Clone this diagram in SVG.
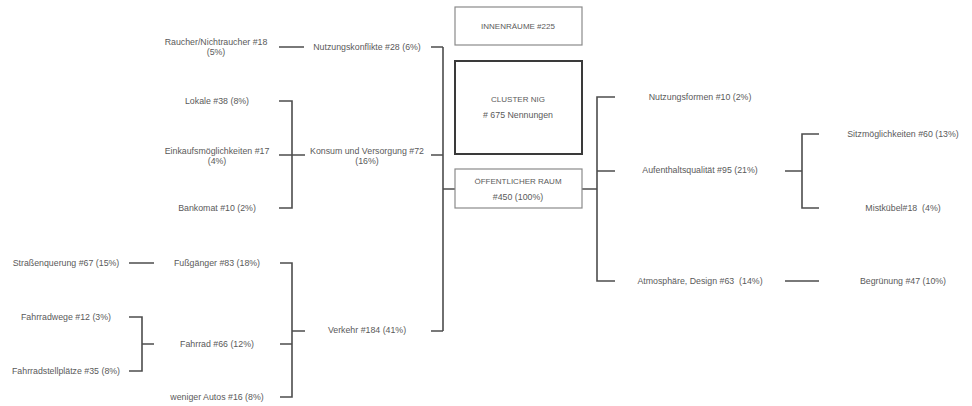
<svg xmlns="http://www.w3.org/2000/svg" width="972" height="406" viewBox="0 0 972 406">
<style>
text{font-family:"Liberation Sans",Arial,sans-serif;font-size:8.8px;fill:#5a5a5a;text-anchor:middle;white-space:pre}
text.cap{font-size:8px}
.c{fill:none;stroke:#4d4d4d;stroke-width:1.6}
.box{fill:#fff;stroke:#8a8a8a;stroke-width:1.2}
.main{fill:#fff;stroke:#3a3a3a;stroke-width:2}
</style>
<rect width="972" height="406" fill="#fff"/>
<g id="connectors">
<path class="c" d="M279 47H304M431 47H443M443 47V331M431 155H443M431 331H443M443 189H455"/>
<path class="c" d="M279 101H292V208H279M279 155H305"/>
<path class="c" d="M129 263H154M129 317H142V371H129M142 344H154"/>
<path class="c" d="M280 263H292V397H280M280 344H292M292 331H305"/>
<path class="c" d="M582 189H597M615 97H597V281H615M597 171H615"/>
<path class="c" d="M785 171H802M819 134H802V208H819M785 281H819"/>
</g>
<g id="innenraeume"><rect class="box" x="455" y="7" width="127" height="38"/><text class="cap" x="518" y="29">INNENRÄUME #225</text></g>
<g id="cluster"><rect class="main" x="455" y="61" width="127" height="93"/><text class="cap" x="518" y="102">CLUSTER NIG</text><text x="518" y="118"># 675 Nennungen</text></g>
<g id="oeffentlicher-raum"><rect class="box" x="455" y="169" width="127" height="39"/><text class="cap" x="518" y="184">ÖFFENTLICHER RAUM</text><text x="518" y="200">#450 (100%)</text></g>
<g id="raucher"><text x="216" y="45">Raucher/Nichtraucher #18</text><text x="216" y="55">(5%)</text></g>
<g id="nutzungskonflikte"><text x="367" y="50">Nutzungskonflikte #28 (6%)</text></g>
<g id="lokale"><text x="217" y="104">Lokale #38 (8%)</text></g>
<g id="einkauf"><text x="217" y="154">Einkaufsmöglichkeiten #17</text><text x="217" y="164">(4%)</text></g>
<g id="bankomat"><text x="217" y="211">Bankomat #10 (2%)</text></g>
<g id="konsum"><text x="367" y="154">Konsum und Versorgung #72</text><text x="367" y="164">(16%)</text></g>
<g id="strassenquerung"><text x="66" y="266">Straßenquerung #67 (15%)</text></g>
<g id="fussgaenger"><text x="217" y="266">Fußgänger #83 (18%)</text></g>
<g id="fahrradwege"><text x="66" y="320">Fahrradwege #12 (3%)</text></g>
<g id="fahrrad"><text x="217" y="347">Fahrrad #66 (12%)</text></g>
<g id="fahrradstellplaetze"><text x="66" y="374">Fahrradstellplätze #35 (8%)</text></g>
<g id="weniger-autos"><text x="217" y="400">weniger Autos #16 (8%)</text></g>
<g id="verkehr"><text x="367" y="333">Verkehr #184 (41%)</text></g>
<g id="nutzungsformen"><text x="700" y="100">Nutzungsformen #10 (2%)</text></g>
<g id="aufenthaltsqualitaet"><text x="700" y="173">Aufenthaltsqualität #95 (21%)</text></g>
<g id="atmosphaere"><text x="700" y="284">Atmosphäre, Design #63  (14%)</text></g>
<g id="sitzmoeglichkeiten"><text x="903" y="137">Sitzmöglichkeiten #60 (13%)</text></g>
<g id="mistkuebel"><text x="903" y="211">Mistkübel#18  (4%)</text></g>
<g id="begruenung"><text x="903" y="284">Begrünung #47 (10%)</text></g>
</svg>
